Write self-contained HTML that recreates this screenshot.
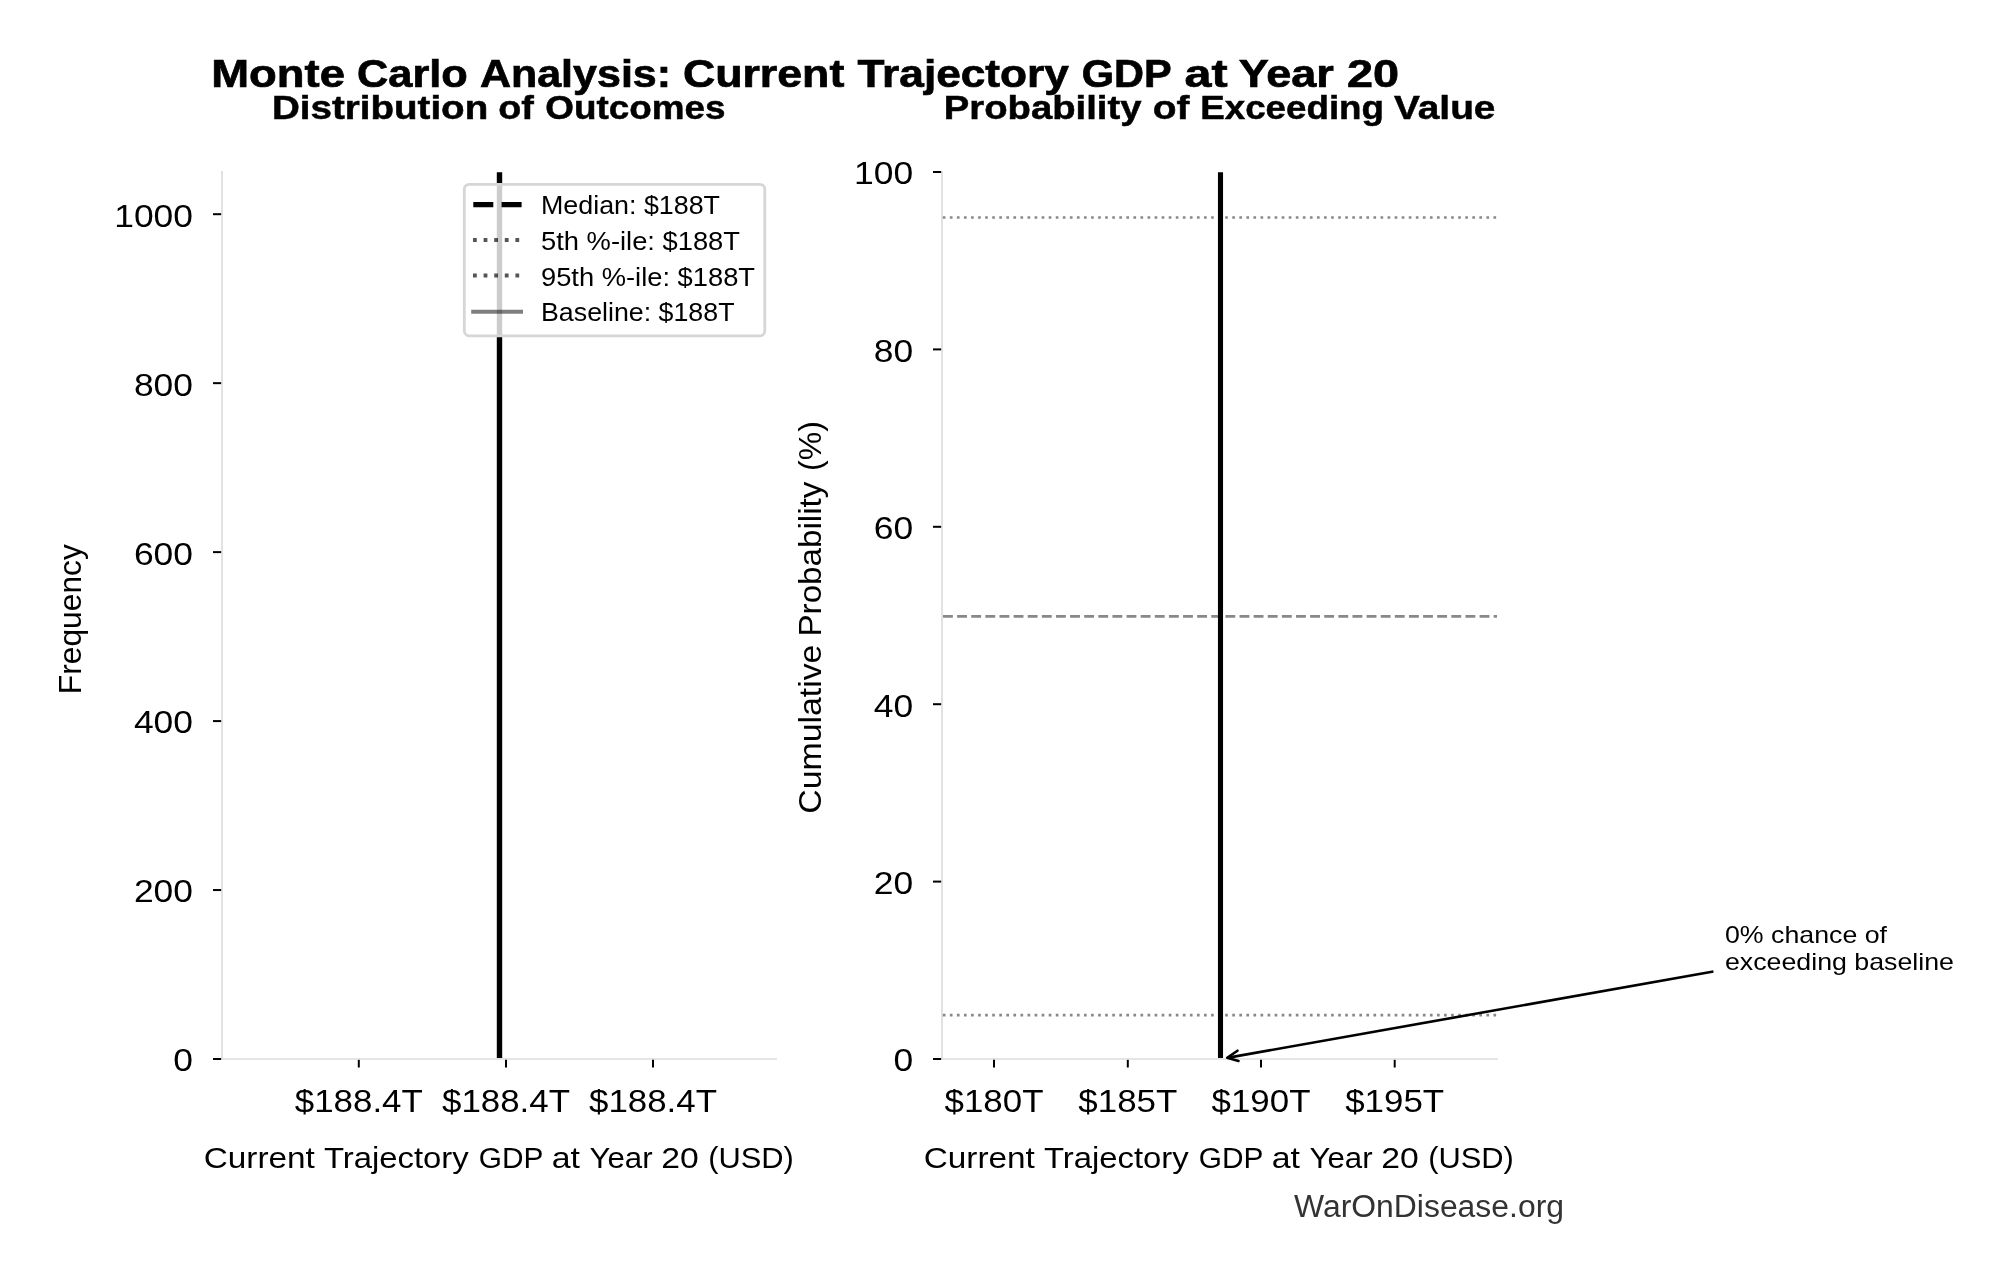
<!DOCTYPE html>
<html><head><meta charset="utf-8"><style>
html,body{margin:0;padding:0;background:#fff;width:2012px;height:1280px;overflow:hidden}
svg{display:block;font-family:"Liberation Sans", sans-serif;will-change:transform}
</style></head><body>
<svg width="2012" height="1280" viewBox="0 0 2012 1280">
<rect width="2012" height="1280" fill="#fff"/>
<text x="211.2" y="87" font-size="39" text-anchor="start" font-weight="bold" fill="#000" textLength="133.81" lengthAdjust="spacingAndGlyphs" stroke="#000" stroke-width="0.7">Monte</text>
<text x="357.08" y="87" font-size="39" text-anchor="start" font-weight="bold" fill="#000" textLength="110.71" lengthAdjust="spacingAndGlyphs" stroke="#000" stroke-width="0.7">Carlo</text>
<text x="479.9" y="87" font-size="39" text-anchor="start" font-weight="bold" fill="#000" textLength="191.16" lengthAdjust="spacingAndGlyphs" stroke="#000" stroke-width="0.7">Analysis:</text>
<text x="682.91" y="87" font-size="39" text-anchor="start" font-weight="bold" fill="#000" textLength="161.36" lengthAdjust="spacingAndGlyphs" stroke="#000" stroke-width="0.7">Current</text>
<text x="857.5" y="87" font-size="39" text-anchor="start" font-weight="bold" fill="#000" textLength="211.4" lengthAdjust="spacingAndGlyphs" stroke="#000" stroke-width="0.7">Trajectory</text>
<text x="1081.87" y="87" font-size="39" text-anchor="start" font-weight="bold" fill="#000" textLength="89.84" lengthAdjust="spacingAndGlyphs" stroke="#000" stroke-width="0.7">GDP</text>
<text x="1184.46" y="87" font-size="39" text-anchor="start" font-weight="bold" fill="#000" textLength="43.1" lengthAdjust="spacingAndGlyphs" stroke="#000" stroke-width="0.7">at</text>
<text x="1238.65" y="87" font-size="39" text-anchor="start" font-weight="bold" fill="#000" textLength="95.14" lengthAdjust="spacingAndGlyphs" stroke="#000" stroke-width="0.7">Year</text>
<text x="1346.9" y="87" font-size="39" text-anchor="start" font-weight="bold" fill="#000" textLength="52.07" lengthAdjust="spacingAndGlyphs" stroke="#000" stroke-width="0.7">20</text>
<text x="271.96" y="119" font-size="33" text-anchor="start" font-weight="bold" fill="#000" textLength="216.25" lengthAdjust="spacingAndGlyphs" stroke="#000" stroke-width="0.5">Distribution</text>
<text x="498.16" y="119" font-size="33" text-anchor="start" font-weight="bold" fill="#000" textLength="35.62" lengthAdjust="spacingAndGlyphs" stroke="#000" stroke-width="0.5">of</text>
<text x="545.38" y="119" font-size="33" text-anchor="start" font-weight="bold" fill="#000" textLength="180.15" lengthAdjust="spacingAndGlyphs" stroke="#000" stroke-width="0.5">Outcomes</text>
<text x="943.78" y="119" font-size="33" text-anchor="start" font-weight="bold" fill="#000" textLength="197.74" lengthAdjust="spacingAndGlyphs" stroke="#000" stroke-width="0.5">Probability</text>
<text x="1152.82" y="119" font-size="33" text-anchor="start" font-weight="bold" fill="#000" textLength="36.66" lengthAdjust="spacingAndGlyphs" stroke="#000" stroke-width="0.5">of</text>
<text x="1200.27" y="119" font-size="33" text-anchor="start" font-weight="bold" fill="#000" textLength="183.74" lengthAdjust="spacingAndGlyphs" stroke="#000" stroke-width="0.5">Exceeding</text>
<text x="1394.0" y="119" font-size="33" text-anchor="start" font-weight="bold" fill="#000" textLength="101.45" lengthAdjust="spacingAndGlyphs" stroke="#000" stroke-width="0.5">Value</text>
<line x1="222" y1="171" x2="222" y2="1059" stroke="#dddddd" stroke-width="1.7" stroke-linecap="butt"/>
<line x1="221.15" y1="1059" x2="777" y2="1059" stroke="#dddddd" stroke-width="1.7" stroke-linecap="butt"/>
<line x1="213" y1="1059.0" x2="221.15" y2="1059.0" stroke="#000" stroke-width="2" stroke-linecap="butt"/>
<text x="193.0" y="1071.4" font-size="32" text-anchor="end" font-weight="normal" fill="#000" textLength="19.7" lengthAdjust="spacingAndGlyphs">0</text>
<line x1="213" y1="890.04" x2="221.15" y2="890.04" stroke="#000" stroke-width="2" stroke-linecap="butt"/>
<text x="193.0" y="902.4399999999999" font-size="32" text-anchor="end" font-weight="normal" fill="#000" textLength="59.099999999999994" lengthAdjust="spacingAndGlyphs">200</text>
<line x1="213" y1="721.0799999999999" x2="221.15" y2="721.0799999999999" stroke="#000" stroke-width="2" stroke-linecap="butt"/>
<text x="193.0" y="733.4799999999999" font-size="32" text-anchor="end" font-weight="normal" fill="#000" textLength="59.099999999999994" lengthAdjust="spacingAndGlyphs">400</text>
<line x1="213" y1="552.12" x2="221.15" y2="552.12" stroke="#000" stroke-width="2" stroke-linecap="butt"/>
<text x="193.0" y="564.52" font-size="32" text-anchor="end" font-weight="normal" fill="#000" textLength="59.099999999999994" lengthAdjust="spacingAndGlyphs">600</text>
<line x1="213" y1="383.15999999999997" x2="221.15" y2="383.15999999999997" stroke="#000" stroke-width="2" stroke-linecap="butt"/>
<text x="193.0" y="395.55999999999995" font-size="32" text-anchor="end" font-weight="normal" fill="#000" textLength="59.099999999999994" lengthAdjust="spacingAndGlyphs">800</text>
<line x1="213" y1="214.20000000000005" x2="221.15" y2="214.20000000000005" stroke="#000" stroke-width="2" stroke-linecap="butt"/>
<text x="193.0" y="226.60000000000005" font-size="32" text-anchor="end" font-weight="normal" fill="#000" textLength="78.8" lengthAdjust="spacingAndGlyphs">1000</text>
<line x1="358.8" y1="1059.85" x2="358.8" y2="1067.5" stroke="#000" stroke-width="2" stroke-linecap="butt"/>
<text x="358.8" y="1112.4" font-size="31" text-anchor="middle" font-weight="normal" fill="#000" textLength="128" lengthAdjust="spacingAndGlyphs">$188.4T</text>
<line x1="506" y1="1059.85" x2="506" y2="1067.5" stroke="#000" stroke-width="2" stroke-linecap="butt"/>
<text x="506" y="1112.4" font-size="31" text-anchor="middle" font-weight="normal" fill="#000" textLength="128" lengthAdjust="spacingAndGlyphs">$188.4T</text>
<line x1="653" y1="1059.85" x2="653" y2="1067.5" stroke="#000" stroke-width="2" stroke-linecap="butt"/>
<text x="653" y="1112.4" font-size="31" text-anchor="middle" font-weight="normal" fill="#000" textLength="128" lengthAdjust="spacingAndGlyphs">$188.4T</text>
<text x="203.78" y="1168" font-size="30" text-anchor="start" font-weight="normal" fill="#000" textLength="111.07" lengthAdjust="spacingAndGlyphs">Current</text>
<text x="323.91" y="1168" font-size="30" text-anchor="start" font-weight="normal" fill="#000" textLength="144.77" lengthAdjust="spacingAndGlyphs">Trajectory</text>
<text x="478.71" y="1168" font-size="30" text-anchor="start" font-weight="normal" fill="#000" textLength="64.59" lengthAdjust="spacingAndGlyphs">GDP</text>
<text x="551.67" y="1168" font-size="30" text-anchor="start" font-weight="normal" fill="#000" textLength="28.26" lengthAdjust="spacingAndGlyphs">at</text>
<text x="589.56" y="1168" font-size="30" text-anchor="start" font-weight="normal" fill="#000" textLength="63.09" lengthAdjust="spacingAndGlyphs">Year</text>
<text x="661.25" y="1168" font-size="30" text-anchor="start" font-weight="normal" fill="#000" textLength="37.49" lengthAdjust="spacingAndGlyphs">20</text>
<text x="708.24" y="1168" font-size="30" text-anchor="start" font-weight="normal" fill="#000" textLength="85.65" lengthAdjust="spacingAndGlyphs">(USD)</text>
<text x="0" y="0" font-size="30.8" text-anchor="middle" transform="translate(81.2,619.2) rotate(-90)" textLength="150" lengthAdjust="spacingAndGlyphs">Frequency</text>
<line x1="499.5" y1="172.2" x2="499.5" y2="1058" stroke="#000" stroke-width="5.4" stroke-linecap="butt"/>
<rect x="464.3" y="184.3" width="300.5" height="151.5" rx="5" ry="5" fill="#ffffff" fill-opacity="0.8" stroke="#d6d6d6" stroke-width="2.8"/>
<line x1="473.3" y1="204.6" x2="521.6" y2="204.6" stroke="#000" stroke-width="5.3" stroke-linecap="butt" stroke-dasharray="20 8.3"/>
<line x1="473" y1="240" x2="523" y2="240" stroke="#000" stroke-width="4" stroke-linecap="butt" stroke-dasharray="3.8 6.8" stroke-opacity="0.667"/>
<line x1="473" y1="275.5" x2="523" y2="275.5" stroke="#000" stroke-width="4" stroke-linecap="butt" stroke-dasharray="3.8 6.8" stroke-opacity="0.667"/>
<line x1="471.2" y1="311.8" x2="523" y2="311.8" stroke="#000" stroke-width="4" stroke-linecap="butt" stroke-opacity="0.5"/>
<text x="541" y="213.9" font-size="25.5" text-anchor="start" font-weight="normal" fill="#000" textLength="179" lengthAdjust="spacingAndGlyphs">Median: $188T</text>
<text x="541" y="249.7" font-size="25.5" text-anchor="start" font-weight="normal" fill="#000" textLength="199" lengthAdjust="spacingAndGlyphs">5th %-ile: $188T</text>
<text x="541" y="285.5" font-size="25.5" text-anchor="start" font-weight="normal" fill="#000" textLength="214" lengthAdjust="spacingAndGlyphs">95th %-ile: $188T</text>
<text x="541" y="321.3" font-size="25.5" text-anchor="start" font-weight="normal" fill="#000" textLength="193.5" lengthAdjust="spacingAndGlyphs">Baseline: $188T</text>
<line x1="942" y1="171" x2="942" y2="1059" stroke="#dddddd" stroke-width="1.7" stroke-linecap="butt"/>
<line x1="941.15" y1="1059" x2="1498" y2="1059" stroke="#dddddd" stroke-width="1.7" stroke-linecap="butt"/>
<line x1="933" y1="1059.0" x2="941.15" y2="1059.0" stroke="#000" stroke-width="2" stroke-linecap="butt"/>
<text x="913.1" y="1071.4" font-size="32" text-anchor="end" font-weight="normal" fill="#000" textLength="19.7" lengthAdjust="spacingAndGlyphs">0</text>
<line x1="933" y1="881.6" x2="941.15" y2="881.6" stroke="#000" stroke-width="2" stroke-linecap="butt"/>
<text x="913.1" y="894.0" font-size="32" text-anchor="end" font-weight="normal" fill="#000" textLength="39.4" lengthAdjust="spacingAndGlyphs">20</text>
<line x1="933" y1="704.2" x2="941.15" y2="704.2" stroke="#000" stroke-width="2" stroke-linecap="butt"/>
<text x="913.1" y="716.6" font-size="32" text-anchor="end" font-weight="normal" fill="#000" textLength="39.4" lengthAdjust="spacingAndGlyphs">40</text>
<line x1="933" y1="526.8000000000001" x2="941.15" y2="526.8000000000001" stroke="#000" stroke-width="2" stroke-linecap="butt"/>
<text x="913.1" y="539.2" font-size="32" text-anchor="end" font-weight="normal" fill="#000" textLength="39.4" lengthAdjust="spacingAndGlyphs">60</text>
<line x1="933" y1="349.4000000000001" x2="941.15" y2="349.4000000000001" stroke="#000" stroke-width="2" stroke-linecap="butt"/>
<text x="913.1" y="361.80000000000007" font-size="32" text-anchor="end" font-weight="normal" fill="#000" textLength="39.4" lengthAdjust="spacingAndGlyphs">80</text>
<line x1="933" y1="172.0000000000001" x2="941.15" y2="172.0000000000001" stroke="#000" stroke-width="2" stroke-linecap="butt"/>
<text x="913.1" y="184.40000000000012" font-size="32" text-anchor="end" font-weight="normal" fill="#000" textLength="59.099999999999994" lengthAdjust="spacingAndGlyphs">100</text>
<line x1="994" y1="1059.85" x2="994" y2="1067.5" stroke="#000" stroke-width="2" stroke-linecap="butt"/>
<text x="994" y="1112.4" font-size="31" text-anchor="middle" font-weight="normal" fill="#000" textLength="99" lengthAdjust="spacingAndGlyphs">$180T</text>
<line x1="1127.8" y1="1059.85" x2="1127.8" y2="1067.5" stroke="#000" stroke-width="2" stroke-linecap="butt"/>
<text x="1127.8" y="1112.4" font-size="31" text-anchor="middle" font-weight="normal" fill="#000" textLength="99" lengthAdjust="spacingAndGlyphs">$185T</text>
<line x1="1261" y1="1059.85" x2="1261" y2="1067.5" stroke="#000" stroke-width="2" stroke-linecap="butt"/>
<text x="1261" y="1112.4" font-size="31" text-anchor="middle" font-weight="normal" fill="#000" textLength="99" lengthAdjust="spacingAndGlyphs">$190T</text>
<line x1="1394.7" y1="1059.85" x2="1394.7" y2="1067.5" stroke="#000" stroke-width="2" stroke-linecap="butt"/>
<text x="1394.7" y="1112.4" font-size="31" text-anchor="middle" font-weight="normal" fill="#000" textLength="99" lengthAdjust="spacingAndGlyphs">$195T</text>
<text x="923.78" y="1168" font-size="30" text-anchor="start" font-weight="normal" fill="#000" textLength="111.07" lengthAdjust="spacingAndGlyphs">Current</text>
<text x="1043.91" y="1168" font-size="30" text-anchor="start" font-weight="normal" fill="#000" textLength="144.77" lengthAdjust="spacingAndGlyphs">Trajectory</text>
<text x="1198.71" y="1168" font-size="30" text-anchor="start" font-weight="normal" fill="#000" textLength="64.59" lengthAdjust="spacingAndGlyphs">GDP</text>
<text x="1271.67" y="1168" font-size="30" text-anchor="start" font-weight="normal" fill="#000" textLength="28.26" lengthAdjust="spacingAndGlyphs">at</text>
<text x="1309.56" y="1168" font-size="30" text-anchor="start" font-weight="normal" fill="#000" textLength="63.09" lengthAdjust="spacingAndGlyphs">Year</text>
<text x="1381.25" y="1168" font-size="30" text-anchor="start" font-weight="normal" fill="#000" textLength="37.49" lengthAdjust="spacingAndGlyphs">20</text>
<text x="1428.24" y="1168" font-size="30" text-anchor="start" font-weight="normal" fill="#000" textLength="85.65" lengthAdjust="spacingAndGlyphs">(USD)</text>
<g transform="translate(820.5,0) rotate(-90)">
<text x="-813.72" y="0" font-size="30.5" text-anchor="start" font-weight="normal" fill="#000" textLength="169.05" lengthAdjust="spacingAndGlyphs">Cumulative</text>
<text x="-636.56" y="0" font-size="30.5" text-anchor="start" font-weight="normal" fill="#000" textLength="154.91" lengthAdjust="spacingAndGlyphs">Probability</text>
<text x="-470.9" y="0" font-size="30.5" text-anchor="start" font-weight="normal" fill="#000" textLength="49.86" lengthAdjust="spacingAndGlyphs">(%)</text>
</g>
<line x1="942.8" y1="217.5" x2="1497" y2="217.5" stroke="#888888" stroke-width="2.66" stroke-linecap="butt" stroke-dasharray="2.66 4.40"/>
<line x1="942.8" y1="1015.2" x2="1497" y2="1015.2" stroke="#888888" stroke-width="2.66" stroke-linecap="butt" stroke-dasharray="2.66 4.40"/>
<line x1="943" y1="616.3" x2="1497" y2="616.3" stroke="#888888" stroke-width="2.66" stroke-linecap="butt" stroke-dasharray="9.86 4.26"/>
<line x1="1220.5" y1="172.2" x2="1220.5" y2="1058" stroke="#000" stroke-width="5.1" stroke-linecap="butt"/>
<line x1="1713.4" y1="971.5" x2="1228.5" y2="1057.6" stroke="#000" stroke-width="2.6" stroke-linecap="butt"/>
<polyline points="1237.5,1050.7 1227.2,1057.8 1238.5,1061" fill="none" stroke="#000" stroke-width="2.6" stroke-linecap="round" stroke-linejoin="round"/>
<text x="1725" y="942.6" font-size="24" text-anchor="start" font-weight="normal" fill="#000" textLength="162" lengthAdjust="spacingAndGlyphs">0% chance of</text>
<text x="1725" y="970.4" font-size="24" text-anchor="start" font-weight="normal" fill="#000" textLength="229" lengthAdjust="spacingAndGlyphs">exceeding baseline</text>
<text x="1294" y="1216.5" font-size="31" text-anchor="start" font-weight="normal" fill="#333333" textLength="270" lengthAdjust="spacingAndGlyphs">WarOnDisease.org</text>
</svg></body></html>
